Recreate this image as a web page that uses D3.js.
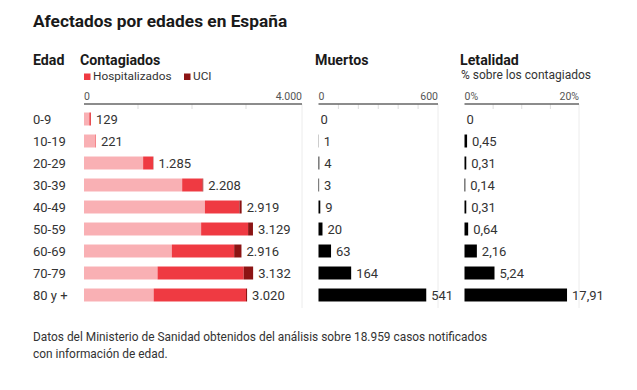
<!DOCTYPE html>
<html><head><meta charset="utf-8">
<script src="https://cdn.jsdelivr.net/npm/d3@7"></script>
<style>body{margin:0;background:#fff;} text{font-family:Roboto, "Liberation Sans", sans-serif;}</style>
</head><body><svg id="c" width="637" height="390"></svg>
<script>
const ages = ["0-9","10-19","20-29","30-39","40-49","50-59","60-69","70-79","80 y +"];
const contagiados = [129,221,1285,2208,2919,3129,2916,3132,3020];
const hospitalizados = [30,10,190,390,680,960,1290,1770,1730];
const uci = [2,0,5,12,40,90,135,175,20];
const muertos = [0,1,4,3,9,20,63,164,541];
const letalidad = [0,0.45,0.31,0.14,0.31,0.64,2.16,5.24,17.91];
const contTicks = [0,1000,2000,3000,4000];
const muerTicks = [0,100,200,300,400,500,600];
const letTicks = [0,5,10,15,20];

const loc = d3.formatLocale({decimal:",", thousands:".", grouping:[3], currency:["","€"]});
const fInt = loc.format(",d");
const fDec = loc.format(".2f");

const svg = d3.select("#c");
const rows = ages.map((a,i)=>({age:a,total:contagiados[i],hosp:hospitalizados[i],uci:uci[i],m:muertos[i],l:letalidad[i]}));

const y = d3.scaleBand().domain(ages).range([108,306]).paddingInner(0.41).paddingOuter(0.205);
const xC = d3.scaleLinear().domain([0,4000]).range([84,300]);
const xM = d3.scaleLinear().domain([0,600]).range([318.5,438]);
const xL = d3.scaleLinear().domain([0,20]).range([464.5,579]);

const cLight="#f9b0b4", cRed="#ef3a42", cDark="#8c1414", cText="#333";

// Title
svg.append("text").attr("x",33).attr("y",27).attr("font-size",17.3).attr("font-weight",700).attr("fill","#1a1a1a").text("Afectados por edades en España");

// Headers
const hdr=[{t:"Edad",x:33},{t:"Contagiados",x:80},{t:"Muertos",x:315},{t:"Letalidad",x:460}];
svg.selectAll(".hdr").data(hdr).join("text").attr("x",d=>d.x).attr("y",65).attr("font-size",14.2).attr("font-weight",700).attr("fill","#1a1a1a").text(d=>d.t);
svg.append("text").attr("x",461).attr("y",79).attr("font-size",12).attr("fill",cText).text("% sobre los contagiados");

// Legend
const leg=[{t:"Hospitalizados",c:cRed,x:84},{t:"UCI",c:cDark,x:184}];
const lg=svg.selectAll(".leg").data(leg).join("g");
lg.append("rect").attr("x",d=>d.x).attr("y",73.5).attr("width",6.5).attr("height",6.5).attr("fill",d=>d.c);
lg.append("text").attr("x",d=>d.x+9).attr("y",80).attr("font-size",11.8).attr("fill",cText).text(d=>d.t);

// Axes (panel)
function panel(scale, ticks, fmt, rightX){
  const g=svg.append("g");
  const r=scale.range();
  g.append("line").attr("x1",rightX).attr("x2",rightX).attr("y1",104).attr("y2",308).attr("stroke","#ececec").attr("stroke-width",1);
  g.selectAll(".tk").data(ticks.slice(1,-1)).join("line").attr("x1",d=>scale(d)).attr("x2",d=>scale(d)).attr("y1",104).attr("y2",109).attr("stroke","#ddd");
  g.append("line").attr("x1",r[0]).attr("x2",rightX).attr("y1",104).attr("y2",104).attr("stroke","#666").attr("stroke-width",1.3);
  const ends=[ticks[0],ticks[ticks.length-1]];
  g.selectAll(".tl").data(ends).join("text")
    .attr("x",(d,i)=>i===0?scale(d):rightX)
    .attr("y",100).attr("font-size",10.5).attr("fill","#555")
    .attr("text-anchor",(d,i)=>i===0?"start":"end").text(fmt);
}
panel(xC, contTicks, d=>fInt(d), 302);
panel(xM, muerTicks, d=>fInt(d), 438);
panel(xL, letTicks, d=>d+"%", 579);

// Age labels
svg.selectAll(".age").data(rows).join("text").attr("x",33).attr("y",d=>y(d.age)+y.bandwidth()/2).attr("dy","0.36em").attr("font-size",13).attr("fill",cText).text(d=>d.age);

// Contagiados stacked bars
const bh=y.bandwidth();
const gC=svg.append("g");
gC.selectAll(".light").data(rows).join("rect").attr("x",xC(0)).attr("y",d=>y(d.age)).attr("height",bh).attr("width",d=>xC(d.total-d.hosp)-xC(0)).attr("fill",cLight);
gC.selectAll(".red").data(rows).join("rect").attr("x",d=>xC(d.total-d.hosp)).attr("y",d=>y(d.age)).attr("height",bh).attr("width",d=>xC(d.total-d.uci)-xC(d.total-d.hosp)).attr("fill",cRed);
gC.selectAll(".dark").data(rows).join("rect").attr("x",d=>xC(d.total-d.uci)).attr("y",d=>y(d.age)).attr("height",bh).attr("width",d=>xC(d.total)-xC(d.total-d.uci)).attr("fill",cDark);
gC.selectAll(".lab").data(rows).join("text").attr("x",d=>xC(d.total)+5).attr("y",d=>y(d.age)+bh/2).attr("dy","0.36em").attr("font-size",13).attr("fill",cText).text(d=>fInt(d.total));

// Muertos
const gM=svg.append("g");
gM.selectAll("rect").data(rows).join("rect").attr("x",xM(0)).attr("y",d=>y(d.age)).attr("height",bh).attr("width",d=>xM(d.m)-xM(0)).attr("fill","#000");
gM.selectAll("text").data(rows).join("text").attr("x",d=>xM(d.m)+(d.m===0?2:5)).attr("y",d=>y(d.age)+bh/2).attr("dy","0.36em").attr("font-size",13).attr("fill",cText).text(d=>fInt(d.m));

// Letalidad
const gL=svg.append("g");
gL.selectAll("rect").data(rows).join("rect").attr("x",xL(0)).attr("y",d=>y(d.age)).attr("height",bh).attr("width",d=>xL(d.l)-xL(0)).attr("fill","#000");
gL.selectAll("text").data(rows).join("text").attr("x",d=>xL(d.l)+(d.l===0?2:5)).attr("y",d=>y(d.age)+bh/2).attr("dy","0.36em").attr("font-size",13).attr("fill",cText).text(d=>d.l===0?"0":fDec(d.l));

// Footer
const foot=["Datos del Ministerio de Sanidad obtenidos del análisis sobre 18.959 casos notificados","con información de edad."];
svg.selectAll(".foot").data(foot).join("text").attr("x",33).attr("y",(d,i)=>341+i*17).attr("font-size",11.9).attr("fill",cText).text(d=>d);
</script></body></html>
